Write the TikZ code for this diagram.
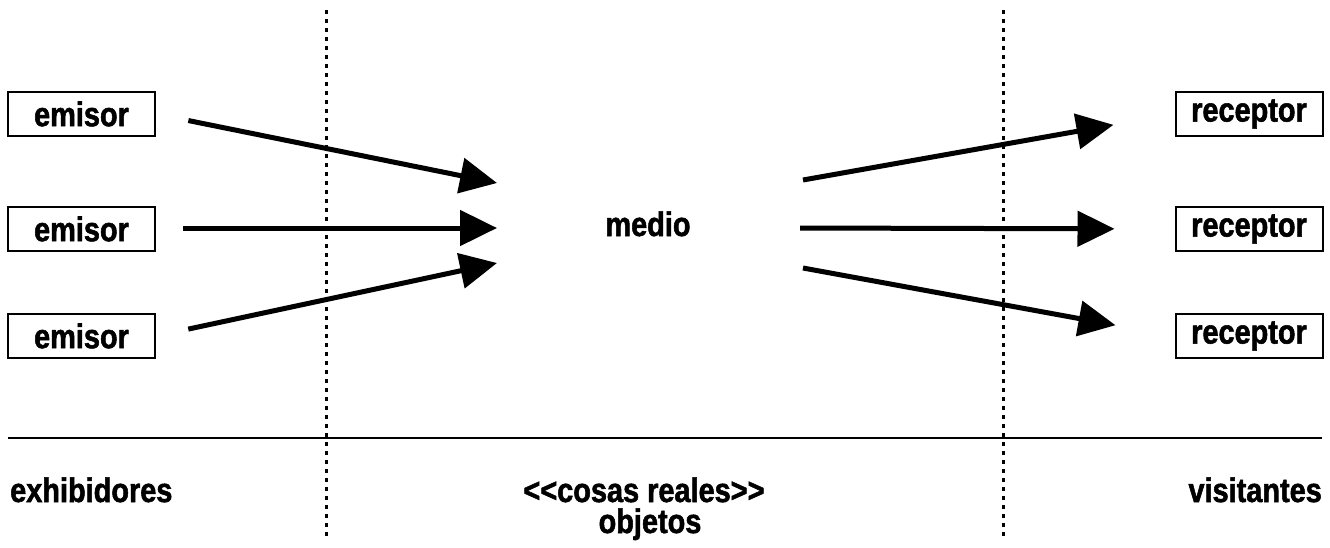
\documentclass[tikz,border=0pt]{standalone}
\usepackage{fontspec}
\setmainfont{Liberation Sans}[FakeStretch=0.85, BoldFeatures={FakeBold=1.6}]
\usetikzlibrary{arrows.meta}

\begin{document}
\begin{tikzpicture}[x=1pt, y=-1pt, >={Triangle[length=37pt,width=35pt]},
    rotulo/.style={font=\fontsize{34}{36}\selectfont\bfseries, inner sep=0pt},
    caja/.style={rotulo, draw, line width=2pt, minimum width=147pt, minimum height=44pt},
    flecha/.style={->, line width=5pt},
    limite/.style={line width=3pt, dash pattern=on 4pt off 5pt}]
        \useasboundingbox (0,0) rectangle (1330,547);

        % cajas de los extremos
        \node[caja] (e1) at (81.5,114) {emisor};
        \node[caja] (e2) at (81.5,229) {emisor};
        \node[caja] (e3) at (81.5,336) {emisor};
        \node[caja] (r1) at (1249,114) {receptor};
        \node[caja] (r2) at (1249,229) {receptor};
        \node[caja] (r3) at (1249,336) {receptor};
        \node[rotulo,anchor=base] (medio) at (648,236) {medio};

        % puntos de llegada y salida junto al medio
        \coordinate (m1) at (497,183);
        \coordinate (m2) at (497,228);
        \coordinate (m3) at (497,263);
        \coordinate (s1) at (803,180);
        \coordinate (s2) at (800,228);
        \coordinate (s3) at (803,268);

        \draw[flecha, shorten <=33pt] (e1.east) -- (m1);
        \draw[flecha] (e2.east) ++(27,-1) coordinate (a2) (a2) -- (m2);
        \draw[flecha, shorten <=33pt] (e3.east) -- (m3);
        \draw[flecha, shorten >=62pt] (s1) -- (r1.west);
        \draw[flecha, shorten >=60pt] (s2) -- (r2.west);
        \draw[flecha, shorten >=60pt] (s3) -- (r3.west);

        % separaciones
        \coordinate (d1) at (326,10);
        \coordinate (d2) at (326,537);
        \coordinate (d3) at (1003,10);
        \coordinate (d4) at (1003,537);
        \draw[limite] (d1) -- (d2);
        \draw[limite] (d3) -- (d4);
        \coordinate (h1) at (8,438);
        \coordinate (h2) at (1322,438);
        \draw[line width=2.5pt] (h1) -- (h2);

        % rotulos de abajo
        \node[rotulo,anchor=base west] (exh) at (10,502) {exhibidores};
        \node[rotulo,anchor=base] (cosas) at (644,502) {<{}<cosas reales>{}>};
        \node[rotulo,anchor=base] (obj) at (650,533) {objetos};
        \node[rotulo,anchor=base east] (vis) at (1322,502) {visitantes};
    \end{tikzpicture}
\end{document}
